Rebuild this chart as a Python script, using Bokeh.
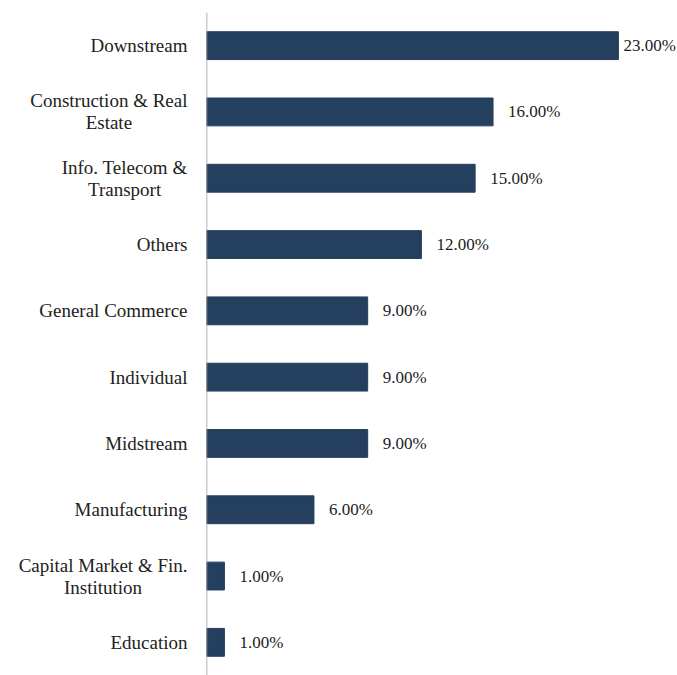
from bokeh.plotting import figure
from bokeh.models import ColumnDataSource, FactorRange, Range1d, Span
from bokeh.layouts import row
from bokeh.embed import file_html
from bokeh.resources import INLINE
from bokeh.core.properties import value

categories = ["Downstream", "Construction & Real\nEstate", "Info. Telecom &\nTransport",
              "Others", "General Commerce", "Individual", "Midstream", "Manufacturing",
              "Capital Market & Fin.\nInstitution", "Education"]
shares = [23, 16, 15, 12, 9, 9, 9, 6, 1, 1]
labels = ["%.2f%%" % v for v in shares]

H = 675
LEFT_W = 205
MAIN_W = 677 - LEFT_W
XMAX = 26.3
frame_w = MAIN_W - 1
px_per = frame_w / XMAX
offsets = []
for v in shares:
    end_px = v * px_per
    offsets.append(min(15, frame_w - 54 - end_px))

src = ColumnDataSource(dict(cat=categories, val=shares, lab=labels, off=offsets))
yr = FactorRange(factors=categories[::-1])

# main bar chart
p = figure(width=MAIN_W, height=H, y_range=yr,
           x_range=Range1d(0, XMAX), output_backend="svg", toolbar_location=None,
           min_border_left=1, min_border_right=0, min_border_top=12, min_border_bottom=0)
p.hbar(y="cat", right="val", left=0, height=0.42, source=src, color="#253F5E")
p.text(x="val", y="cat", text="lab", x_offset="off", source=src, text_baseline="middle",
       text_align="left", text_font=value("Liberation Serif"), text_font_size="17px",
       text_color="#222222")
p.add_layout(Span(location=0, dimension="height", line_color="#999999", line_width=1.5))
p.xaxis.visible = False
p.yaxis.visible = False
p.xgrid.visible = False
p.ygrid.visible = False
p.outline_line_color = None

# category labels (right-anchored blocks, centred lines)
lab = figure(width=LEFT_W, height=H, y_range=yr, x_range=Range1d(0, 1),
             output_backend="svg", toolbar_location=None,
             min_border_left=0, min_border_right=0, min_border_top=12, min_border_bottom=0)
lab.text(x=1, y="cat", text="cat", source=src, x_offset=-18, anchor="center_right",
         text_align="center", text_baseline="middle", text_line_height=1.05,
         text_font=value("Liberation Serif"), text_font_size="19px", text_color="#222222")
lab.xaxis.visible = False
lab.yaxis.visible = False
lab.xgrid.visible = False
lab.ygrid.visible = False
lab.outline_line_color = None

layout = row(lab, p, spacing=0)
open("out.html", "w").write(file_html(layout, INLINE))
